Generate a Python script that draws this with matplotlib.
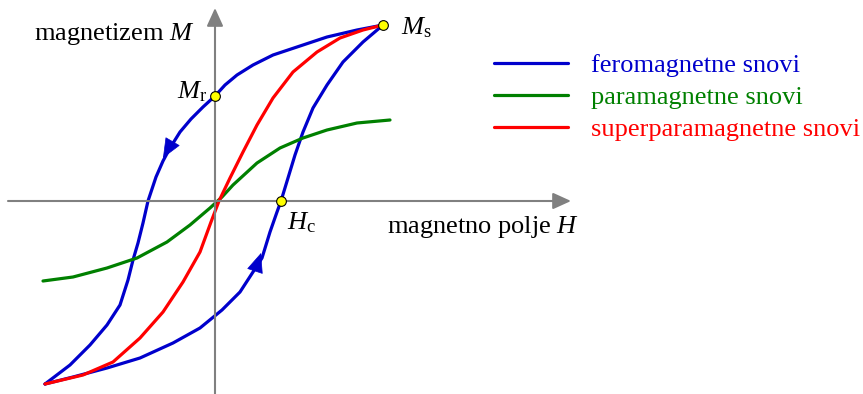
import matplotlib
matplotlib.use("Agg")
import matplotlib.pyplot as plt

plt.rcParams['font.family'] = ['Liberation Serif', 'DejaVu Serif']
plt.rcParams['mathtext.fontset'] = 'custom'
plt.rcParams['mathtext.rm'] = 'Liberation Serif'
plt.rcParams['mathtext.it'] = 'Liberation Serif:italic'

# curves (H, M in arbitrary units, origin at axis crossing)
fero_down_H = [168, 142, 112, 82, 58, 38, 22, 10, 0, -12, -24, -35, -45, -52, -59, -63, -67,
               -72, -77, -82, -87, -95, -108, -125, -145, -170]
fero_down_M = [176, 171, 164, 154, 146, 136, 126, 116, 105, 94, 82, 69, 53, 40, 24, 12, 0,
               -22, -42, -59, -79, -104, -124, -144, -164, -183]
fero_up_H = [-170, -142, -108, -75, -42, -15, 7, 25, 38, 47, 55, 62, 66, 73, 80, 88, 98,
             112, 128, 148, 168]
fero_up_M = [-183, -176, -167, -157, -142, -127, -109, -91, -71, -57, -31, -11, 0, 23, 46,
             69, 93, 116, 139, 159, 176]
para_H = [-172, -142, -108, -78, -48, -25, -5, 7, 18, 42, 65, 88, 112, 142, 175]
para_M = [-80, -76, -67, -57, -41, -24, -7, 4, 16, 38, 53, 63, 71, 78, 81]
super_H = [-170, -132, -102, -75, -52, -32, -15, -4, 4, 15, 28, 42, 58, 78, 102, 125, 148, 168]
super_M = [-183, -174, -161, -137, -111, -81, -51, -21, 0, 23, 49, 76, 103, 129, 149, 163, 171, 176]

Ms = (168, 176)
Mr = (0, 105)
Hc = (66, 0)

# direction arrows on the hysteresis loop: (tail, tip)
arrow_down = ((-45, 55), (-52, 43))
arrow_up = ((42, -64), (46, -52))

labels = ['feromagnetne snovi', 'paramagnetne snovi', 'superparamagnetne snovi']
colors = ['#0000cc', '#008000', '#ff0000']

fig = plt.figure(figsize=(8.63, 3.94), dpi=100)
ax = fig.add_axes([0, 0, 1, 1])
ax.set_xlim(-215, 648)
ax.set_ylim(-193, 201)
ax.axis('off')

# axes with arrows
axis_kw = dict(arrowstyle='-|>,head_length=1.1,head_width=0.5', color='#808080',
               lw=1.5, shrinkA=0, shrinkB=0, mutation_scale=10)
ax.annotate('', xy=(356, 0), xytext=(-207, 0), arrowprops=axis_kw)
ax.annotate('', xy=(0, 193), xytext=(0, -193), arrowprops=axis_kw)

lw = 2.3
line_kw = dict(lw=lw, solid_joinstyle='round', solid_capstyle='round')
ax.plot(fero_down_H, fero_down_M, color=colors[0], label=labels[0], **line_kw)
ax.plot(fero_up_H, fero_up_M, color=colors[0], **line_kw)
ax.plot(para_H, para_M, color=colors[1], label=labels[1], **line_kw)
ax.plot(super_H, super_M, color=colors[2], label=labels[2], **line_kw)

head_kw = dict(arrowstyle='-|>,head_length=1.3,head_width=0.55', color=colors[0],
               lw=0.5, shrinkA=0, shrinkB=0, mutation_scale=10)
for tail, tip in (arrow_down, arrow_up):
    ax.annotate('', xy=tip, xytext=tail, arrowprops=head_kw)

# characteristic points
for p in (Ms, Mr, Hc):
    ax.plot(p[0], p[1], 'o', ms=7, mfc='#ffff00', mec='black', mew=0.8, zorder=5)

fs = 19
ax.text(-20, 161, 'magnetizem $M$', fontsize=fs, ha='right', va='baseline')
ax.text(186, 167, r'$M_\mathrm{s}$', fontsize=fs, ha='left', va='baseline')
ax.text(-8, 103, r'$M_\mathrm{r}$', fontsize=fs, ha='right', va='baseline')
ax.text(72, -28, r'$H_\mathrm{c}$', fontsize=fs, ha='left', va='baseline')
ax.text(172, -32, 'magnetno polje $H$', fontsize=fs, ha='left', va='baseline')

ax.legend(loc='upper left', bbox_to_anchor=(279, 147), bbox_transform=ax.transData,
          frameon=False, fontsize=fs, handlelength=2.8, handletextpad=0.87,
          labelspacing=0.31, borderpad=0, borderaxespad=0, labelcolor='linecolor')

fig.savefig('out.png', dpi=100)
